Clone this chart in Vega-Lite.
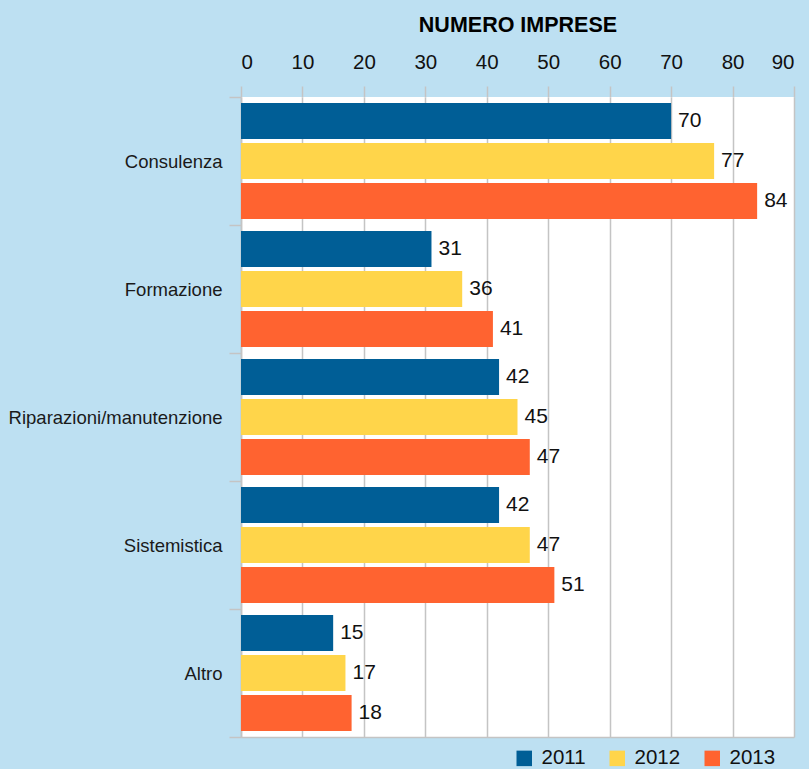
{
  "$schema": "https://vega.github.io/schema/vega-lite/v6.json",
  "autosize": {"type": "none"},
  "width": 553,
  "height": 640,
  "padding": {"left": 241, "top": 97, "right": 15, "bottom": 32},
  "background": "#bde0f2",
  "config": {
    "font": "Liberation Sans, Arial, sans-serif",
    "view": {"fill": "white", "stroke": null}
  },
  "data": {
    "values": [
      {"categoria": "Consulenza", "anno": "2011", "imprese": 70},
      {"categoria": "Consulenza", "anno": "2012", "imprese": 77},
      {"categoria": "Consulenza", "anno": "2013", "imprese": 84},
      {"categoria": "Formazione", "anno": "2011", "imprese": 31},
      {"categoria": "Formazione", "anno": "2012", "imprese": 36},
      {"categoria": "Formazione", "anno": "2013", "imprese": 41},
      {"categoria": "Riparazioni/manutenzione", "anno": "2011", "imprese": 42},
      {"categoria": "Riparazioni/manutenzione", "anno": "2012", "imprese": 45},
      {"categoria": "Riparazioni/manutenzione", "anno": "2013", "imprese": 47},
      {"categoria": "Sistemistica", "anno": "2011", "imprese": 42},
      {"categoria": "Sistemistica", "anno": "2012", "imprese": 47},
      {"categoria": "Sistemistica", "anno": "2013", "imprese": 51},
      {"categoria": "Altro", "anno": "2011", "imprese": 15},
      {"categoria": "Altro", "anno": "2012", "imprese": 17},
      {"categoria": "Altro", "anno": "2013", "imprese": 18}
    ]
  },
  "encoding": {
    "y": {
      "field": "categoria", "type": "nominal", "sort": null,
      "scale": {"paddingInner": 0, "paddingOuter": 0},
      "axis": {
        "title": null, "tickBand": "extent", "tickSize": 12, "tickColor": "#c4c4c4", "tickWidth": 1.5,
        "domainColor": "#c4c4c4", "domainWidth": 1.5,
        "labelFontSize": 18.5, "labelColor": "#1a1a1a", "labelPadding": 7, "labelLimit": 300
      }
    },
    "yOffset": {
      "field": "anno", "type": "nominal",
      "scale": {"paddingInner": 0.1, "paddingOuter": 0.15}
    },
    "x": {
      "field": "imprese", "type": "quantitative",
      "scale": {"domain": [0, 90]}
    }
  },
  "layer": [
    {
      "mark": {"type": "bar"},
      "encoding": {
        "x": {
          "field": "imprese", "type": "quantitative",
          "scale": {"domain": [0, 90]},
          "axis": {
            "orient": "top", "title": "NUMERO IMPRESE", "values": [0, 10, 20, 30, 40, 50, 60, 70, 80, 90],
            "titleFontSize": 21.5, "titleFontWeight": "bold", "titleColor": "#000000", "titlePadding": 16,
            "labelFontSize": 20.5, "labelColor": "#111111", "labelPadding": 14,
            "tickSize": 11, "tickColor": "#c4c4c4", "tickWidth": 1.5,
            "grid": true, "gridColor": "#c4c4c4", "gridWidth": 1.5,
            "domain": false
          }
        },
        "color": {
          "field": "anno", "type": "nominal",
          "scale": {"domain": ["2011", "2012", "2013"], "range": ["#005e96", "#ffd54a", "#ff6330"]},
          "legend": {
            "title": null, "orient": "none", "direction": "horizontal",
            "legendX": 273, "legendY": 651,
            "symbolType": "square", "symbolSize": 240, "symbolStrokeWidth": 0, "symbolOpacity": 1,
            "labelFontSize": 20.5, "labelColor": "#111111", "labelOffset": 7, "columnPadding": 21
          }
        }
      }
    },
    {
      "mark": {"type": "text", "align": "left", "baseline": "middle", "dx": 7, "fontSize": 21, "color": "#111111"},
      "encoding": {
        "text": {"field": "imprese", "type": "quantitative"},
        "x": {
          "field": "imprese", "type": "quantitative",
          "scale": {"domain": [0, 90]},
          "axis": {"orient": "bottom", "title": null, "labels": false, "ticks": false, "grid": false, "domain": true, "domainColor": "#c4c4c4", "domainWidth": 1.5}
        }
      }
    }
  ]
}
